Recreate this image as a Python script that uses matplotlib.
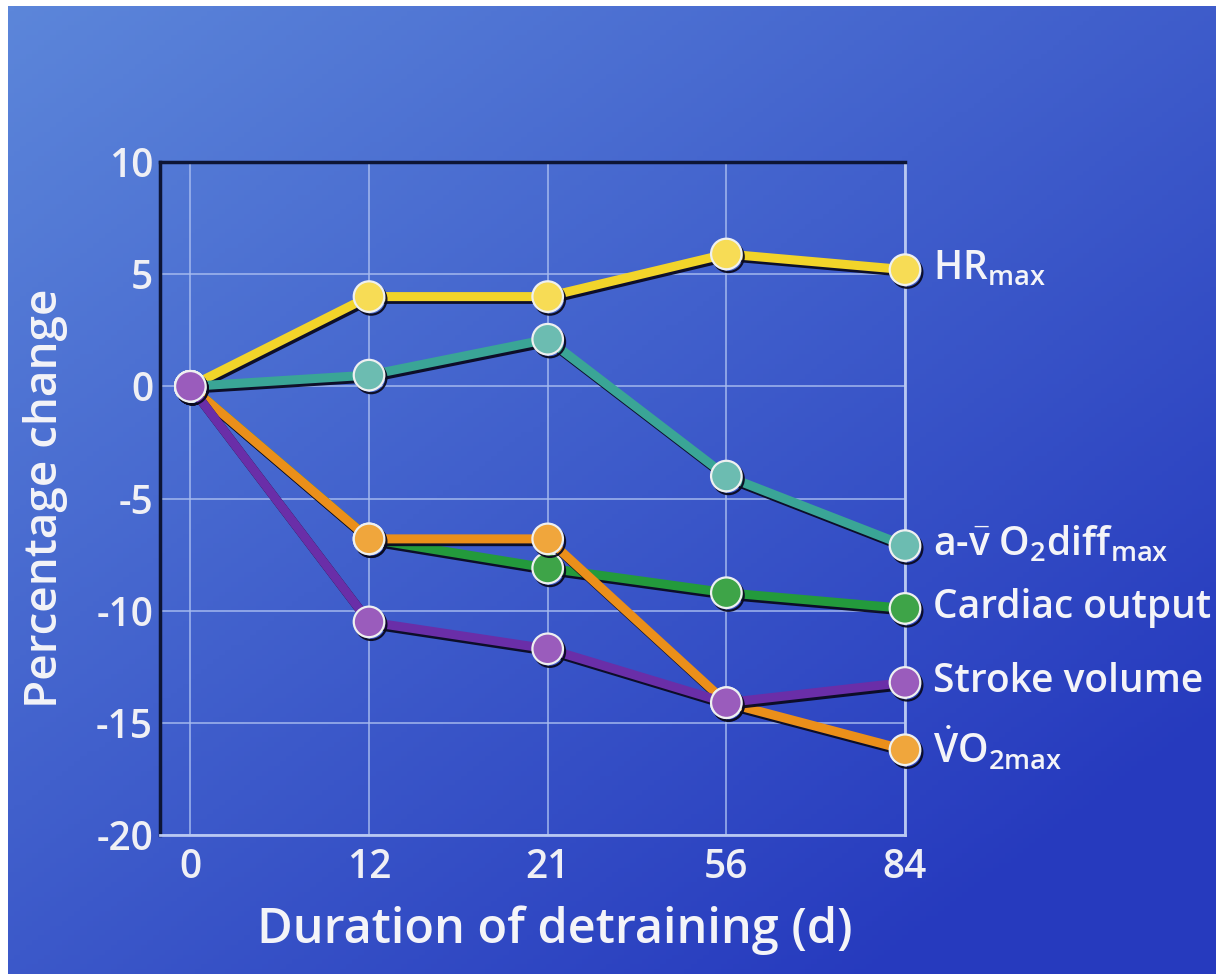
import matplotlib
matplotlib.use("Agg")
import matplotlib.pyplot as plt
import matplotlib.patheffects as pe
import numpy as np

plt.rcParams['font.family'] = ['Open Sans', 'DejaVu Sans']
plt.rcParams['mathtext.fontset'] = 'custom'
plt.rcParams['mathtext.rm'] = 'Open Sans:semibold'
plt.rcParams['mathtext.it'] = 'Open Sans:italic'
plt.rcParams['mathtext.bf'] = 'Open Sans:bold'
plt.rcParams['axes.unicode_minus'] = False

# data
days = ['0', '12', '21', '56', '84']
hr_max = [0, 4.0, 4.0, 5.9, 5.2]
avo2_diff = [0, 0.5, 2.1, -4.0, -7.1]
cardiac_output = [0, -6.8, -8.1, -9.2, -9.9]
vo2_max = [0, -6.8, -6.8, -14.1, -16.2]
stroke_volume = [0, -10.5, -11.7, -14.1, -13.2]

series = [
    (hr_max, r'HR$_{\mathrm{max}}$', '#f2d42a', '#f7dc55'),
    (avo2_diff, r'a-$\bar{\mathrm{v}}$ O$_{2}$diff$_{\mathrm{max}}$', '#3aa596', '#6cbcb1'),
    (cardiac_output, 'Cardiac output', '#239a3c', '#3ea448'),
    (vo2_max, r'$\dot{\mathrm{V}}$O$_{2\mathrm{max}}$', '#eb8f1a', '#f0a63c'),
    (stroke_volume, 'Stroke volume', '#6a2ea8', '#9a5cbc'),
]

fig = plt.figure(figsize=(12.16, 9.74), dpi=100)
fig.patch.set_facecolor('white')

# blue gradient backdrop
bg = fig.add_axes([8 / 1216, 0, 1 - 8 / 1216, 1 - 6 / 974], zorder=-10)
yy, xx = np.mgrid[0:1:200j, 0:1:200j]
t = np.clip(0.55 * xx + 0.6 * yy, 0, 1)
c0 = np.array([92, 134, 218]) / 255
c1 = np.array([38, 58, 190]) / 255
img = c0[None, None, :] * (1 - t[..., None]) + c1[None, None, :] * t[..., None]
bg.imshow(img, aspect='auto', extent=[0, 1, 0, 1])
bg.axis('off')

ax = fig.add_axes([160 / 1216, 1 - 835 / 974, 745 / 1216, 673 / 974])
ax.set_facecolor('none')

x = np.arange(len(days))
for vals, name, line_col, mark_col in series:
    ax.plot(x, vals, color=line_col, lw=6.5, solid_capstyle='round', zorder=3,
            marker='o', ms=22, mfc=mark_col, mec='#eef0f0', mew=1.6,
            path_effects=[pe.SimpleLineShadow(offset=(1.5, -2), shadow_color='#0a0a20', alpha=0.95),
                          pe.Normal()],
            clip_on=False)
    ax.annotate(name, xy=(x[-1], vals[-1]), xytext=(20, 0), textcoords='offset points',
                va='center', ha='left', color='#f4f4f8', fontsize=28,
                fontweight='semibold', annotation_clip=False)

ax.set_xlim(-0.17, 4)
ax.set_ylim(-20, 10)
ax.set_xticks(x)
ax.set_xticklabels(days)
ax.set_yticks([-20, -15, -10, -5, 0, 5, 10])
ax.tick_params(length=0, colors='#f0f0f5', labelsize=28)
ax.tick_params(axis='x', pad=9)
ax.tick_params(axis='y', pad=5)
for lab in ax.get_xticklabels() + ax.get_yticklabels():
    lab.set_fontweight('semibold')

ax.grid(True, color='#a9bdf0', lw=1.3, alpha=0.8)
ax.set_axisbelow(True)
for side in ['left', 'top']:
    ax.spines[side].set_color('#0d1535')
    ax.spines[side].set_linewidth(2.5)
for side in ['bottom', 'right']:
    ax.spines[side].set_color('#b9c8f2')
    ax.spines[side].set_linewidth(2)

ax.set_xlabel('Duration of detraining (d)', color='#f4f4f8', fontsize=35,
              fontweight='semibold')
ax.xaxis.set_label_coords(0.53, -0.105)
ax.set_ylabel('Percentage change', color='#f4f4f8', fontsize=33,
              fontweight='semibold')
ax.yaxis.set_label_coords(-0.123, 0.5)

fig.savefig('out.png', dpi=100)
